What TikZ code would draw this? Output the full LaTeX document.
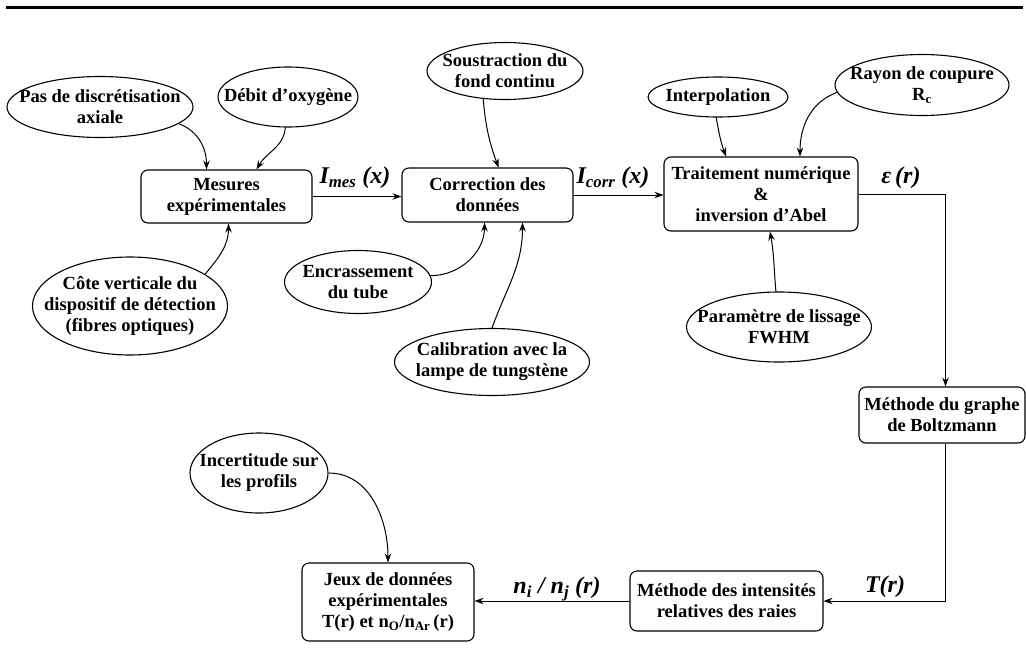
\documentclass[tikz,border=0pt]{standalone}
\usepackage{fontspec}
\setmainfont{Liberation Serif}
\usetikzlibrary{arrows.meta,calc,shapes.geometric}
\begin{document}
\begin{tikzpicture}[x=1pt,y=1pt,
  every node/.style={font=\fontsize{18.5}{21}\selectfont\bfseries},
  box/.style={draw,rounded corners=7pt,line width=1.1pt,align=center,inner sep=2pt},
  oval/.style={draw,ellipse,line width=1.1pt,inner sep=0pt},
  txt/.style={align=center,inner sep=0pt},
  lab/.style={font=\fontsize{24}{28}\selectfont\bfseries\itshape,inner sep=0pt},
  arr/.style={-{Stealth[length=9pt,width=6.5pt,inset=3pt]},line width=1pt},
]
\useasboundingbox (0,0) rectangle (1026,-670);
\draw[line width=3pt] (6,-7) -- (1023,-7);

% boxes
\node[box,minimum width=171pt,minimum height=53pt] (mes) at (226.5,-196.5) {Mesures\\expérimentales};
\node[box,minimum width=171pt,minimum height=54pt] (corr) at (487.5,-195) {Correction des\\données};
\node[box,minimum width=194pt,minimum height=74pt] (trait) at (761,-194) {Traitement numérique\\\&\\inversion d’Abel};
\node[box,minimum width=166pt,minimum height=56pt] (boltz) at (942,-415) {Méthode du graphe\\de Boltzmann};
\node[box,minimum width=193pt,minimum height=60pt] (intens) at (726.5,-601) {Méthode des intensités\\relatives des raies};
\node[box,minimum width=172pt,minimum height=78pt] (jeux) at (388,-602) {Jeux de données\\expérimentales\\T(r) et n\textsubscript{O}/n\textsubscript{Ar}\,(r)};

% ellipses
\node[oval,minimum width=186pt,minimum height=61pt] (pas) at (100,-107) {};
\node[txt] (pas-t) at (pas) {Pas de discrétisation\\axiale};
\node[oval,minimum width=140pt,minimum height=60pt] (debit) at (288,-97) {};
\node[txt] (debit-t) at (debit) {Débit d’oxygène};
\node[oval,minimum width=195pt,minimum height=98pt] (cote) at (130,-306) {};
\node[txt] (cote-t) at (cote) {Côte verticale du\\dispositif de détection\\(fibres optiques)};
\node[oval,minimum width=156pt,minimum height=57pt] (soust) at (505,-71) {};
\node[txt] (soust-t) at (soust) {Soustraction du\\fond continu};
\node[oval,minimum width=147pt,minimum height=63pt] (encr) at (358,-282) {};
\node[txt] (encr-t) at (encr) {Encrassement\\du tube};
\node[oval,minimum width=195pt,minimum height=67pt] (calib) at (492,-362) {};
\node[txt] (calib-t) at (calib) {Calibration avec la\\lampe de tungstène};
\node[oval,minimum width=140pt,minimum height=40pt] (interp) at (718,-97) {};
\node[txt] (interp-t) at (interp) {Interpolation};
\node[oval,minimum width=174pt,minimum height=61pt] (rayon) at (922,-85) {};
\node[txt] (rayon-t) at (rayon) {Rayon de coupure\\R\textsubscript{c}};
\node[oval,minimum width=185pt,minimum height=70pt] (fwhm) at (779,-327) {};
\node[txt] (fwhm-t) at (fwhm) {Paramètre de lissage\\FWHM};
\node[oval,minimum width=138pt,minimum height=80pt] (incert) at (259,-473) {};
\node[txt] (incert-t) at (incert) {Incertitude sur\\les profils};

% labels
\node[lab] (lmes) at (355,-178) {I\textsubscript{mes} (x)};
\node[lab] (lcorr) at (613,-178) {I\textsubscript{corr} (x)};
\node[lab] (leps) at (901,-178) {ε\,(r)};
\node[lab] (lT) at (885,-587) {T(r)};
\node[lab] (ln) at (557,-589) {n\textsubscript{i} / n\textsubscript{j} (r)};

% curved influences
\draw[arr] (pas.-12) to[out=-20,in=90] ([xshift=-20pt]mes.north);
\draw[arr] (debit.-95) to[out=-95,in=60] ([xshift=30pt]mes.north);
\draw[arr] (cote.23) to[out=50,in=-90] ([xshift=2pt]mes.south);
\draw[arr] (soust.-128) to[out=-85,in=110] ([xshift=11pt]corr.north);
\draw[arr] (encr.5) to[out=0,in=-90] ([xshift=-3pt]corr.south);
\draw[arr] (calib.north) to[out=70,in=-90] ([xshift=35pt]corr.south);
\draw[arr] (interp.-95) to[out=-80,in=110] ([xshift=-35pt]trait.north);
\draw[arr] (rayon.185) to[out=200,in=90] ([xshift=39pt]trait.north);
\draw[arr] (fwhm.95) to[out=95,in=-80] ([xshift=9pt]trait.south);
\draw[arr] (incert.east) to[out=0,in=90] (jeux.north);

% main flow
\draw[arr] (mes.east) -- (mes.east -| corr.west);
\draw[arr] (corr.east) -- (corr.east -| trait.west);
\draw[arr] (trait.east) -| ([xshift=3.5pt]boltz.north);
\draw[arr] ([xshift=3.5pt]boltz.south) |- (intens.east);
\draw[arr] (intens.west) -- (intens.west -| jeux.east);
\end{tikzpicture}
\end{document}
